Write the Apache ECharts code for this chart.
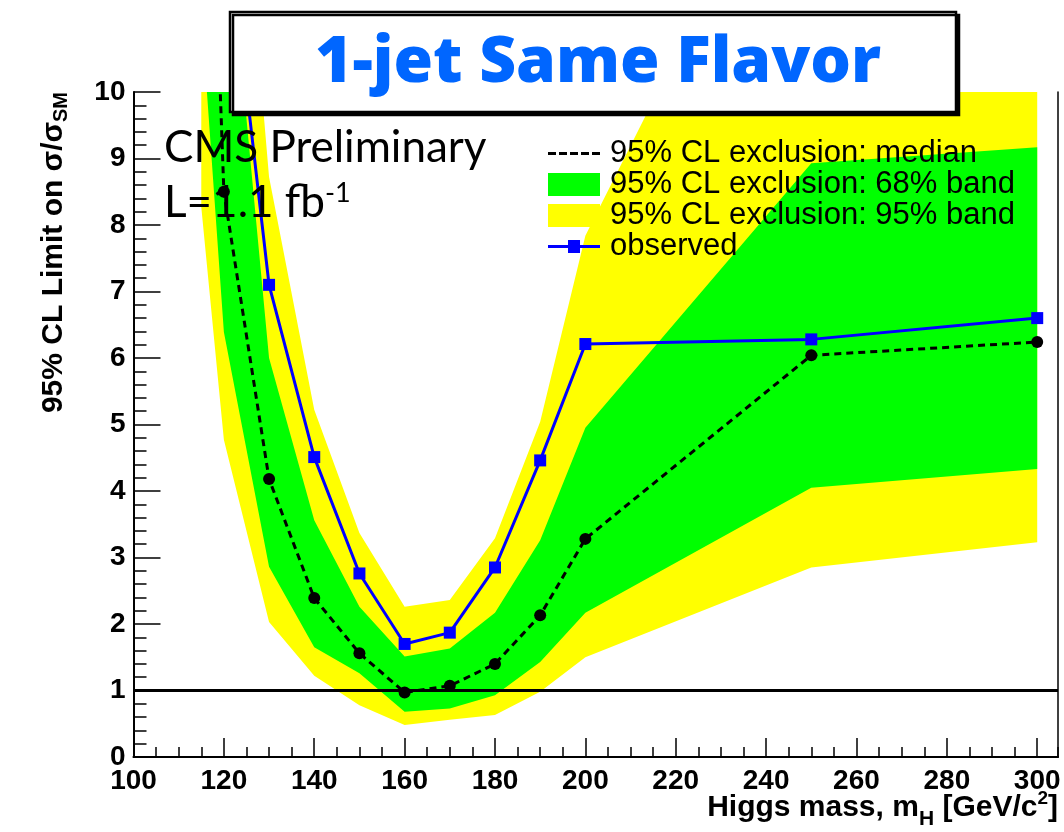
<!DOCTYPE html>
<html><head><meta charset="utf-8">
<script src="https://cdn.jsdelivr.net/npm/echarts@6/dist/echarts.min.js"></script>
<style>html,body{margin:0;padding:0;background:#fff}#c{width:1064px;height:832px}</style>
</head><body><div id="c"></div>
<script>
// ---- data ----
const bandMass    = [115, 120, 130, 140, 150, 160, 170, 180, 190, 200, 250, 300];
const band95Low   = [8.27, 4.77, 2.03, 1.22, 0.78, 0.48, 0.56, 0.63, 0.98, 1.50, 2.85, 3.23];
const band68Low   = [11.2, 6.39, 2.86, 1.65, 1.26, 0.68, 0.73, 0.93, 1.43, 2.17, 4.05, 4.33];
const band68High  = [20.0, 13.2, 6.00, 3.56, 2.26, 1.51, 1.63, 2.17, 3.26, 4.95, 8.93, 9.17];
const band95High  = [25.0, 16.7, 8.72, 5.22, 3.37, 2.26, 2.36, 3.29, 5.04, 7.84, 14.6, 16.0];
const medianMass  = [115, 120, 130, 140, 150, 160, 170, 180, 190, 200, 250, 300];
const medianLimit = [17.9, 8.50, 4.18, 2.39, 1.56, 0.97, 1.07, 1.40, 2.13, 3.28, 6.04, 6.24];
const observedMass  = [120, 130, 140, 150, 160, 170, 180, 190, 200, 250, 300];
const observedLimit = [13.0, 7.10, 4.51, 2.76, 1.70, 1.87, 2.85, 4.46, 6.21, 6.28, 6.60];
const referenceLevel = 1;
const xRange = [100, 304.6];
const yRange = [0, 10];
const seriesNames = ['95% CL exclusion: median', '95% CL exclusion: 68% band', '95% CL exclusion: 95% band', 'observed'];
const titleText = '1-jet Same Flavor';

const chart = echarts.init(document.getElementById('c'), null, {renderer: 'canvas'});
const AX = 'Liberation Sans, Arial, Helvetica, sans-serif';
const pairs = (xs, ys) => xs.map((x, i) => [x, ys[i]]);

function bandRender(lo, hi, color) {
  return function (params, api) {
    const pts = [];
    for (let i = 0; i < bandMass.length; i++) pts.push(api.coord([bandMass[i], hi[i]]));
    for (let i = bandMass.length - 1; i >= 0; i--) pts.push(api.coord([bandMass[i], lo[i]]));
    return {type: 'polygon', shape: {points: pts}, style: {fill: color}};
  };
}

const option = {
  animation: false,
  backgroundColor: '#fff',
  title: {
    text: titleText, left: 598, top: 64, textAlign: 'center', textVerticalAlign: 'middle', padding: 0, z: 120,
    textStyle: {fontFamily: 'Open Sans', fontWeight: 800, fontSize: 64, color: '#0066ff'}
  },
  grid: {left: 133.5, right: 6, top: 92, bottom: 75, containLabel: false},
  legend: {
    orient: 'vertical', left: 548, top: 138, padding: 0, itemWidth: 52, itemHeight: 23, itemGap: 0,
    selectedMode: false, symbolKeepAspect: true,
    itemStyle: {borderWidth: 0},
    textStyle: {fontFamily: AX, fontSize: 31, color: '#000', lineHeight: 23, padding: [0, 0, 0, 5]},
    data: [
      {name: seriesNames[0], icon: 'path://M0,0h8v3h-8z M11,0h8v3h-8z M22,0h8v3h-8z M33,0h8v3h-8z M44,0h8v3h-8z'},
      {name: seriesNames[1], icon: 'rect'},
      {name: seriesNames[2], icon: 'rect'},
      {name: seriesNames[3], icon: 'path://M0,5h52v3h-52z M20,0h12v13h-12z'}
    ],
    z: 110
  },
  xAxis: [
    {
      type: 'value', min: xRange[0], max: xRange[1], interval: 20, position: 'bottom', z: 5,
      axisLine: {show: true, lineStyle: {color: '#000', width: 2}},
      axisTick: {show: true, inside: true, length: 19, lineStyle: {color: '#000', width: 1.5}},
      axisLabel: {show: true, showMaxLabel: false, margin: 10, color: '#000', fontFamily: AX, fontWeight: 'bold', fontSize: 28},
      splitLine: {show: false},
      name: '{b|Higgs mass, m}{s|H}{b| [GeV/c}{p|2}{b|]}',
      nameLocation: 'end', nameGap: 0, nameMoveOverlap: false,
      nameTextStyle: {
        align: 'right', verticalAlign: 'top', padding: [28, 0, 0, 0],
        rich: {
          b: {fontFamily: AX, fontWeight: 'bold', fontSize: 30, color: '#000'},
          s: {fontFamily: AX, fontWeight: 'bold', fontSize: 21, color: '#000', padding: [24, 0, 0, 0]},
          p: {fontFamily: AX, fontWeight: 'bold', fontSize: 19, color: '#000', padding: [0, 0, 18, 0]}
        }
      }
    },
    {
      type: 'value', min: xRange[0], max: xRange[1], interval: 5, position: 'bottom', z: 5,
      axisLine: {show: false}, axisLabel: {show: false}, splitLine: {show: false},
      axisTick: {show: true, inside: true, length: 10, lineStyle: {color: '#000', width: 1.5}}
    },
    {
      type: 'value', min: xRange[0], max: xRange[1], position: 'top', z: 5,
      axisLine: {show: true, lineStyle: {color: '#000', width: 1.5}},
      axisTick: {show: false}, axisLabel: {show: false}, splitLine: {show: false}
    }
  ],
  yAxis: [
    {
      type: 'value', min: yRange[0], max: yRange[1], interval: 1, position: 'left', z: 5,
      axisLine: {show: true, lineStyle: {color: '#000', width: 2}},
      axisTick: {show: true, inside: true, length: 27, lineStyle: {color: '#000', width: 1.5}},
      axisLabel: {show: true, margin: 8, color: '#000', fontFamily: AX, fontWeight: 'bold', fontSize: 28},
      splitLine: {show: false},
      name: '{b|95% CL Limit on σ/σ}{s|SM}',
      nameLocation: 'end', nameGap: 0, nameRotate: 90, nameMoveOverlap: false,
      nameTextStyle: {
        align: 'right', verticalAlign: 'bottom', padding: [0, 0, 62, 0],
        rich: {
          b: {fontFamily: AX, fontWeight: 'bold', fontSize: 30, color: '#000'},
          s: {fontFamily: AX, fontWeight: 'bold', fontSize: 20, color: '#000', padding: [16, 0, 0, 0]}
        }
      }
    },
    {
      type: 'value', min: yRange[0], max: yRange[1], interval: 0.2, position: 'left', z: 5,
      axisLine: {show: false}, axisLabel: {show: false}, splitLine: {show: false},
      axisTick: {show: true, inside: true, length: 13, lineStyle: {color: '#000', width: 1.5}}
    },
    {
      type: 'value', min: yRange[0], max: yRange[1], position: 'right', z: 5,
      axisLine: {show: true, lineStyle: {color: '#000', width: 1.5}},
      axisTick: {show: false}, axisLabel: {show: false}, splitLine: {show: false}
    }
  ],
  series: [
    {
      name: seriesNames[2], type: 'custom', clip: true, z: 1, silent: true,
      itemStyle: {color: '#ffff00'},
      renderItem: bandRender(band95Low, band95High, '#ffff00'),
      data: [[bandMass[0], band95Low[0]]]
    },
    {
      name: seriesNames[1], type: 'custom', clip: true, z: 1.1, silent: true,
      itemStyle: {color: '#00ff00'},
      renderItem: bandRender(band68Low, band68High, '#00ff00'),
      data: [[bandMass[0], band68Low[0]]]
    },
    {
      name: seriesNames[0], type: 'line', clip: true, z: 3,
      data: pairs(medianMass, medianLimit),
      symbol: 'circle', symbolSize: 12, showSymbol: true,
      itemStyle: {color: '#000'},
      lineStyle: {color: '#000', width: 3, type: [7, 5]},
      markLine: {
        silent: true, symbol: 'none', label: {show: false},
        lineStyle: {color: '#000', width: 3, type: 'solid'},
        data: [{yAxis: referenceLevel}]
      }
    },
    {
      name: seriesNames[3], type: 'line', clip: true, z: 4,
      data: pairs(observedMass, observedLimit),
      symbol: 'rect', symbolSize: 12, showSymbol: true,
      itemStyle: {color: '#0000ff'},
      lineStyle: {color: '#0000ff', width: 3}
    }
  ],
  graphic: [
    {
      type: 'rect', z: 100,
      shape: {x: 230, y: 12, width: 726, height: 100},
      style: {fill: '#fff', stroke: '#000', lineWidth: 2.5, shadowColor: '#000', shadowOffsetX: 3, shadowOffsetY: 3, shadowBlur: 0}
    },
    {
      type: 'text', z: 100, x: 164, y: 148,
      style: {text: 'CMS Preliminary', font: '44px Lato', fill: '#000', verticalAlign: 'middle', align: 'left'}
    },
    {
      type: 'text', z: 100, x: 164, y: 203,
      style: {
        text: '{a|L=1.1 fb}{s|-1}', verticalAlign: 'middle', align: 'left',
        rich: {
          a: {font: '44px Lato', fill: '#000'},
          s: {font: '27px Lato', fill: '#000', padding: [0, 0, 20, 0]}
        }
      }
    }
  ]
};
chart.setOption(option);
</script>
</body></html>
